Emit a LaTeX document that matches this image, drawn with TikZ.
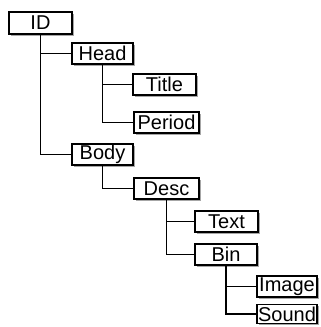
\documentclass[tikz,border=0pt]{standalone}
\usepackage{fontspec}
\setmainfont{Liberation Sans}
\usetikzlibrary{shadows}
\begin{document}
\begin{tikzpicture}[x=1pt,y=-1pt,
  box/.style={draw=black, line width=1.1pt, fill=white, inner sep=0pt,
    minimum height=21pt, font=\fontsize{20}{20}\selectfont,
    drop shadow={shadow xshift=1.8pt, shadow yshift=-1.8pt, fill=black!35, opacity=1}},
  link/.style={line width=1.3pt, draw=black}]
\useasboundingbox (0,0) rectangle (321,327);
\node[box, minimum width=63pt, minimum height=22pt] (id) at (40.5,23) {ID};
\node[box, minimum width=61pt] (head) at (102.5,53.5) {Head};
\node[box, minimum width=63pt] (title) at (164.5,84.5) {Title};
\node[box, minimum width=65pt] (period) at (166.5,122.5) {Period};
\node[box, minimum width=61pt] (body) at (102.5,154.5) {Body};
\node[box, minimum width=65pt] (desc) at (166.5,188.5) {Desc};
\node[box, minimum width=63pt] (text) at (226.5,221.5) {Text};
\node[box, minimum width=62pt] (bin) at (226,254.5) {Bin};
\node[box, minimum width=60pt] (image) at (287,286.5) {Image};
\node[box, minimum width=60pt, minimum height=19pt] (sound) at (287,314) {Sound};
\draw[link] (id.south) |- (head.west);
\draw[link] (id.south) |- (body.west);
\draw[link] (head.south) |- (title.west);
\draw[link] (head.south) |- (period.west);
\draw[link] (body.south) |- (desc.west);
\draw[link] (desc.south) |- (text.west);
\draw[link] (desc.south) |- (bin.west);
\draw[link] (bin.south) |- (image.west);
\draw[link] (bin.south) |- (sound.west);
\end{tikzpicture}
\end{document}
